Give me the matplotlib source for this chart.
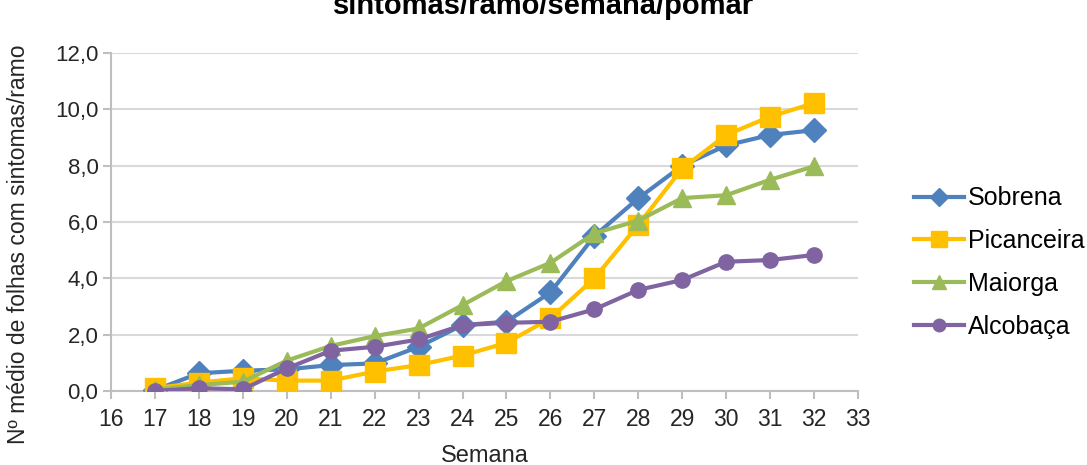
import matplotlib
matplotlib.use("Agg")
import matplotlib.pyplot as plt

plt.rcParams["font.family"] = ["Liberation Sans", "DejaVu Sans"]

semanas = list(range(17, 33))
sobrena = [0.03, 0.63, 0.72, 0.77, 0.92, 0.98, 1.57, 2.34, 2.46, 3.50, 5.50, 6.84, 8.00, 8.72, 9.09, 9.26]
picanceira = [0.10, 0.30, 0.45, 0.37, 0.37, 0.69, 0.92, 1.26, 1.71, 2.58, 4.00, 5.90, 7.90, 9.09, 9.74, 10.22]
maiorga = [0.05, 0.21, 0.33, 1.08, 1.60, 1.95, 2.22, 3.05, 3.90, 4.55, 5.60, 6.05, 6.85, 6.95, 7.50, 7.98]
alcobaca = [0.00, 0.10, 0.06, 0.80, 1.43, 1.57, 1.83, 2.34, 2.42, 2.46, 2.90, 3.59, 3.94, 4.59, 4.65, 4.83]

series = [
    ("Sobrena", sobrena, "#4f81bd", "D", 12, 9),
    ("Picanceira", picanceira, "#ffc000", "s", 14, 11),
    ("Maiorga", maiorga, "#9bbb59", "^", 13, 10),
    ("Alcobaça", alcobaca, "#8064a2", "o", 11, 9),
]

fig = plt.figure(figsize=(10.87, 4.65), dpi=100)
ax = fig.add_axes([0.1021, 0.1591, 0.6872, 0.7269])

for nome, vals, cor, mk, ms, _ in series:
    ax.plot(semanas, vals, color=cor, lw=3, marker=mk, markersize=ms,
            markeredgecolor=cor, label=nome, zorder=3)

ax.set_xlim(16, 33)
ax.set_ylim(0, 12)
ax.set_xticks(range(16, 34))
ax.set_yticks(range(0, 13, 2))
ax.set_yticklabels([f"{v:.1f}".replace(".", ",") for v in range(0, 13, 2)])
ax.grid(axis="y", color="#d9d9d9", lw=1.5, zorder=0)
ax.set_axisbelow(True)

for s in ["top", "right"]:
    ax.spines[s].set_visible(False)
for s in ["left", "bottom"]:
    ax.spines[s].set_color("#bfbfbf")
    ax.spines[s].set_linewidth(1.5)
ax.tick_params(axis="both", colors="#bfbfbf", width=1.5, length=6,
               labelcolor="#262626")
ax.tick_params(axis="x", labelsize=16.5, pad=6)
ax.tick_params(axis="y", labelsize=16, pad=3)

ax.set_xlabel("Semana", fontsize=17, color="#262626")
ax.xaxis.set_label_coords(0.5, -0.16)
ax.set_ylabel("Nº médio de folhas com sintomas/ramo", fontsize=16.5, color="#262626")
ax.yaxis.set_label_coords(-0.108, 0.435)

fig.text(0.5, 1 - 14 / 465, "sintomas/ramo/semana/pomar", ha="center", va="baseline",
         fontsize=21, fontweight="bold", color="#000000")

leg = ax.legend(loc="center left", bbox_to_anchor=(1.062, 0.38), frameon=False,
                fontsize=18, handlelength=2.0, labelspacing=0.75, handletextpad=0.15,
                borderaxespad=0)
for h, s in zip(leg.legend_handles, series):
    h.set_markersize(s[5])

fig.savefig("out.png", dpi=100)
